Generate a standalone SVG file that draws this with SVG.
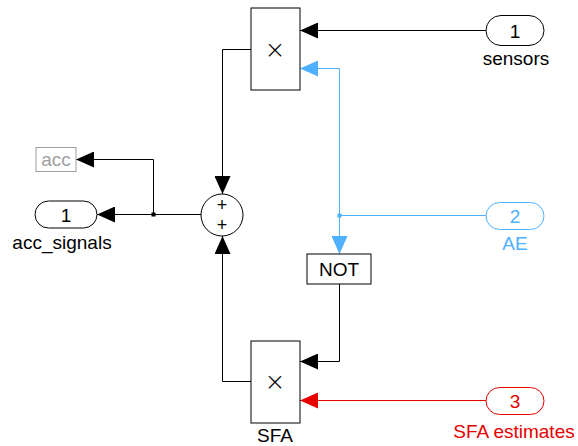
<svg xmlns="http://www.w3.org/2000/svg" width="578" height="446" viewBox="0 0 578 446">
<style>
text{font-family:"Liberation Sans",Arial,sans-serif;font-size:19px;text-anchor:middle}
.blk{fill:#fff;stroke:#000;stroke-width:1}
.w{fill:none;stroke-width:1}
.k{stroke:#000}
.b{stroke:#4fb0ff}
.r{stroke:#e60000}
.tk{fill:#000}
.tb{fill:#4fb0ff}
.tr{fill:#e60000}
.mul{font-size:25px;font-family:"DejaVu Sans",sans-serif;font-weight:200;fill:#000}
.plus{font-size:18px;fill:#000}
</style>
<defs>
<marker id="ak" markerUnits="userSpaceOnUse" markerWidth="18" markerHeight="16" refX="18" refY="8" orient="auto"><path d="M0,0 L18,8 L0,16 z" fill="#000"/></marker>
<marker id="ab" markerUnits="userSpaceOnUse" markerWidth="18" markerHeight="16" refX="18" refY="8" orient="auto"><path d="M0,0 L18,8 L0,16 z" fill="#4fb0ff"/></marker>
<marker id="ar" markerUnits="userSpaceOnUse" markerWidth="18" markerHeight="16" refX="18" refY="8" orient="auto"><path d="M0,0 L18,8 L0,16 z" fill="#e60000"/></marker>
</defs>
<rect width="578" height="446" fill="#fff"/>
<g id="connectors">
<path class="w k" d="M486,30.5 H300" marker-end="url(#ak)"/>
<path class="w k" d="M251,49.5 H222.5 V194" marker-end="url(#ak)"/>
<path class="w k" d="M201,214.5 H97" marker-end="url(#ak)"/>
<path class="w k" d="M153.5,214.5 V159.5 H76" marker-end="url(#ak)"/>
<rect x="151.5" y="212.5" width="4" height="4" fill="#000"/>
<path class="w b" d="M486,215.5 H339.5"/>
<path class="w b" d="M339.5,215.5 V68.5 H300" marker-end="url(#ab)"/>
<path class="w b" d="M339.5,215.5 V254" marker-end="url(#ab)"/>
<rect x="337.5" y="213.5" width="4" height="4" fill="#4fb0ff"/>
<path class="w k" d="M339.5,284 V361.5 H300" marker-end="url(#ak)"/>
<path class="w r" d="M486,400.5 H300" marker-end="url(#ar)"/>
<path class="w k" d="M251,381.5 H222.5 V236" marker-end="url(#ak)"/>
</g>
<g id="in_sensors">
<rect x="486" y="15.5" width="58" height="30" rx="15" class="blk"/>
<text x="515" y="37.5" class="tk">1</text>
<text x="516" y="65" class="tk">sensors</text>
</g>
<g id="in_AE">
<rect x="486" y="202.5" width="58" height="27" rx="13.5" fill="#fff" stroke="#4fb0ff"/>
<text x="515" y="223" class="tb">2</text>
<text x="515" y="250" class="tb">AE</text>
</g>
<g id="in_SFA">
<rect x="486" y="387.5" width="58" height="27" rx="13.5" fill="#fff" stroke="#e60000"/>
<text x="515" y="408" class="tr">3</text>
<text x="514" y="438" class="tr">SFA estimates</text>
</g>
<g id="out_acc_signals">
<rect x="35" y="201" width="62" height="27" rx="13.5" class="blk"/>
<text x="66" y="221.5" class="tk">1</text>
<text x="62" y="249" class="tk">acc_signals</text>
</g>
<g id="goto_acc">
<rect x="36" y="147.5" width="40" height="24" fill="#fff" stroke="#a0a0a0"/>
<text x="56" y="166" fill="#a0a0a0">acc</text>
</g>
<g id="product_top">
<rect x="251" y="8" width="49" height="82" class="blk"/>
<text x="275" y="58" class="mul">×</text>
</g>
<g id="sum">
<circle cx="222" cy="215" r="21" class="blk"/>
<text x="222" y="211" class="plus">+</text>
<text x="222" y="231" class="plus">+</text>
</g>
<g id="not">
<rect x="307" y="254" width="64" height="30" class="blk"/>
<text x="339" y="276" class="tk">NOT</text>
</g>
<g id="product_sfa">
<rect x="251" y="341" width="49" height="82" class="blk"/>
<text x="275" y="390" class="mul">×</text>
<text x="275" y="442" class="tk">SFA</text>
</g>
</svg>
